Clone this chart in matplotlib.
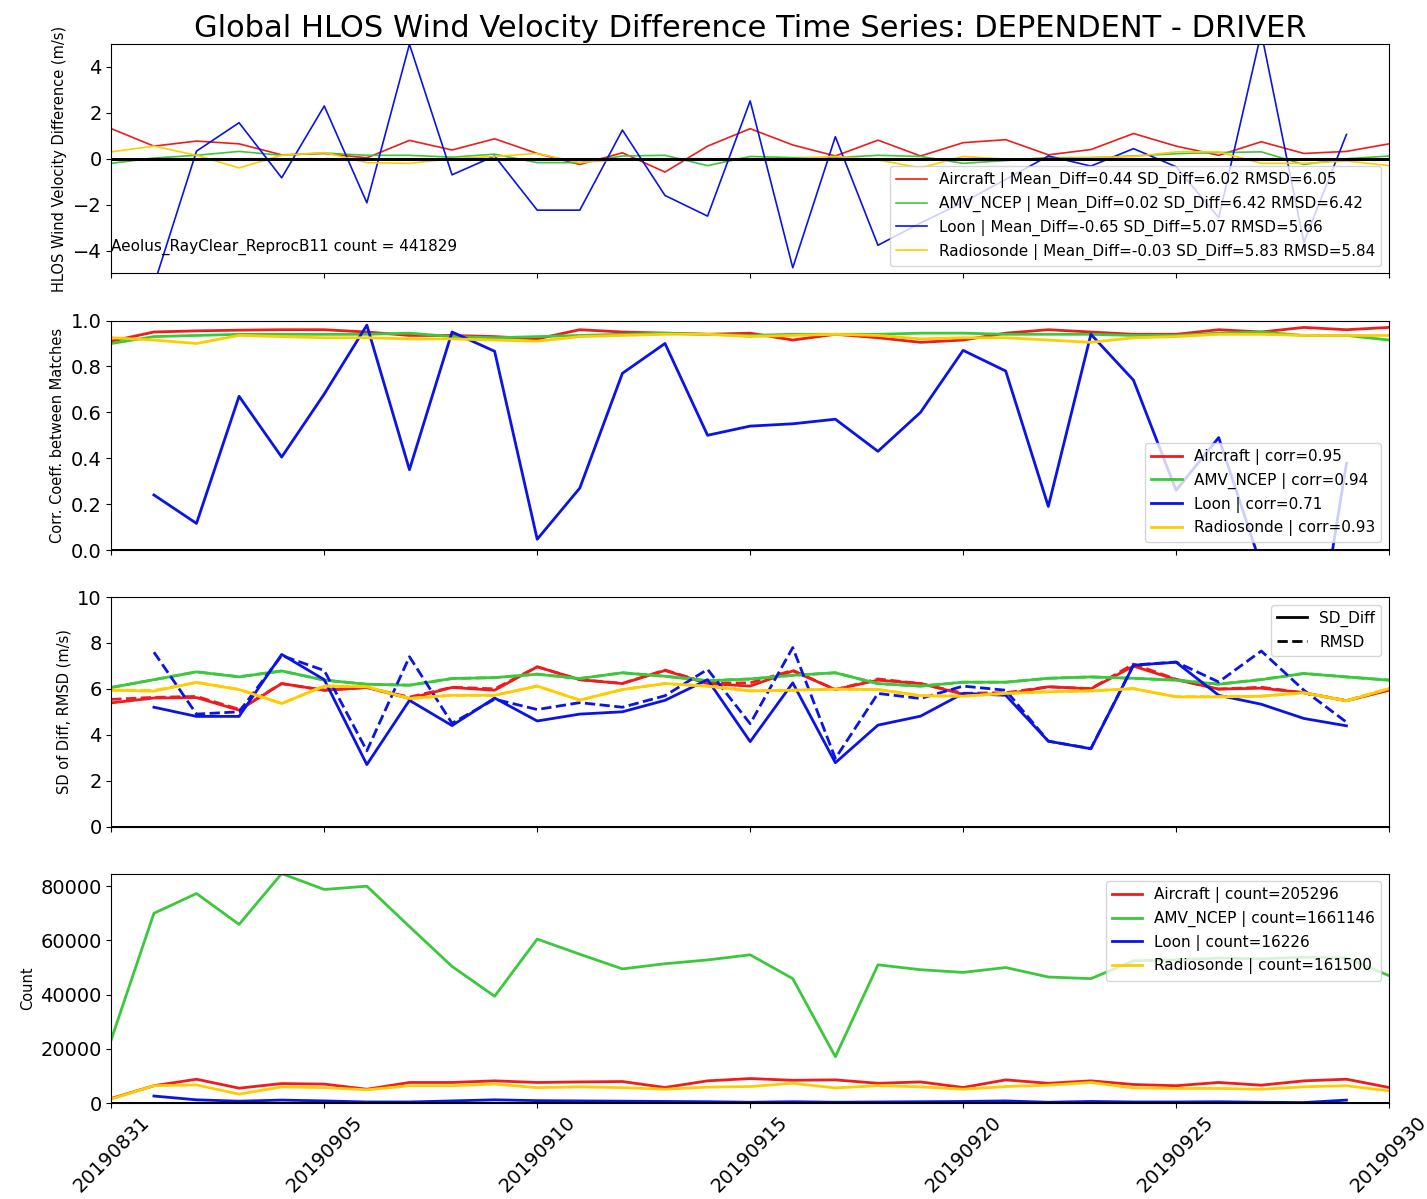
import numpy as np
import matplotlib
matplotlib.use('Agg')
import matplotlib.pyplot as plt

## --------------------------- Data --------------------------------------

dates = ['201908%02d' % d for d in [31]] + ['201909%02d' % d for d in range(1, 31)]

sources = ['Aircraft', 'AMV_NCEP', 'Loon', 'Radiosonde']
colors = ['#ee1c1c', '#3cc83c', '#0a14e6', '#ffcc00']

nan = np.nan

# mean difference (m/s)
mean_aircraft = [1.31, 0.55, 0.77, 0.65, 0.17, 0.23, 0.04, 0.80, 0.38, 0.87, 0.23, -0.25, 0.26, -0.58, 0.55,
                 1.31, 0.60, 0.12, 0.81, 0.12, 0.70, 0.83, 0.17, 0.40, 1.10, 0.55, 0.15, 0.74, 0.23, 0.32, 0.65]
mean_amv = [-0.20, 0.03, 0.15, 0.32, 0.15, 0.25, 0.15, 0.15, 0.07, 0.20, -0.17, -0.17, 0.12, 0.15, -0.30,
            0.10, 0.05, 0.05, 0.15, 0.10, -0.20, -0.08, 0.05, 0.05, 0.12, 0.22, 0.27, 0.30, -0.25, 0.00, 0.12]
mean_loon = [nan, -5.5, 0.33, 1.57, -0.83, 2.30, -1.92, 4.99, -0.70, 0.12, -2.24, -2.24, 1.25, -1.60, -2.50,
             2.52, -4.75, 0.96, -3.77, -2.80, -1.90, -0.90, 0.12, -0.32, 0.44, -0.35, -2.57, 5.50, -3.64, 1.06, nan]
mean_radiosonde = [0.30, 0.55, 0.15, -0.40, 0.15, 0.27, -0.17, -0.20, 0.00, 0.10, 0.23, -0.17, -0.03, 0.00, 0.00,
                   0.00, 0.00, 0.10, -0.05, -0.40, 0.10, -0.02, 0.00, 0.05, 0.10, 0.30, 0.30, -0.20, -0.20, -0.10, -0.30]

# correlation between matches
corr_aircraft = [0.91, 0.95, 0.955, 0.958, 0.96, 0.96, 0.95, 0.935, 0.935, 0.93, 0.92, 0.96, 0.95, 0.945, 0.94,
                 0.945, 0.915, 0.94, 0.925, 0.905, 0.915, 0.945, 0.96, 0.95, 0.94, 0.94, 0.96, 0.95, 0.97, 0.96, 0.97]
corr_amv = [0.90, 0.93, 0.935, 0.94, 0.94, 0.94, 0.94, 0.945, 0.93, 0.925, 0.93, 0.935, 0.94, 0.945, 0.94,
            0.935, 0.94, 0.94, 0.94, 0.945, 0.945, 0.94, 0.94, 0.94, 0.935, 0.935, 0.945, 0.95, 0.935, 0.935, 0.915]
corr_loon = [nan, 0.24, 0.116, 0.67, 0.405, 0.68, 0.98, 0.35, 0.95, 0.866, 0.047, 0.27, 0.77, 0.90, 0.50,
             0.54, 0.55, 0.57, 0.43, 0.60, 0.87, 0.78, 0.19, 0.94, 0.74, 0.26, 0.49, -0.07, -0.78, 0.378, nan]
corr_radiosonde = [0.925, 0.915, 0.90, 0.935, 0.93, 0.925, 0.925, 0.92, 0.92, 0.915, 0.91, 0.93, 0.935, 0.94, 0.94,
                   0.93, 0.935, 0.94, 0.935, 0.92, 0.925, 0.925, 0.915, 0.905, 0.925, 0.93, 0.94, 0.94, 0.935, 0.935, 0.935]

# SD of difference (m/s)
sd_aircraft = [5.39, 5.6, 5.62, 5.07, 6.23, 5.94, 6.06, 5.58, 6.06, 5.94, 6.96, 6.4, 6.23, 6.8, 6.23,
               6.12, 6.78, 5.97, 6.38, 6.23, 5.77, 5.77, 6.09, 6.0, 6.99, 6.4, 5.99, 6.03, 5.83, 5.48, 5.94]
sd_amv = [6.06, 6.4, 6.74, 6.52, 6.78, 6.38, 6.2, 6.16, 6.45, 6.49, 6.64, 6.45, 6.7, 6.55, 6.35,
          6.43, 6.59, 6.7, 6.23, 6.12, 6.29, 6.29, 6.46, 6.52, 6.46, 6.38, 6.2, 6.4, 6.67, 6.52, 6.38]
sd_loon = [nan, 5.2, 4.8, 4.8, 7.5, 6.4, 2.7, 5.5, 4.4, 5.6, 4.6, 4.9, 5.0, 5.5, 6.4,
           3.7, 6.26, 2.78, 4.42, 4.81, 5.8, 5.72, 3.72, 3.39, 7.03, 7.16, 5.72, 5.33, 4.71, 4.39, nan]
sd_radiosonde = [5.94, 5.9, 6.28, 5.97, 5.36, 6.12, 6.09, 5.58, 5.72, 5.72, 6.12, 5.51, 5.97, 6.23, 6.12,
                 5.91, 5.94, 5.99, 5.97, 5.7, 5.68, 5.8, 5.87, 5.91, 6.01, 5.65, 5.65, 5.68, 5.83, 5.48, 6.01]

# RMSD (m/s)
rmsd_aircraft = [5.54, 5.63, 5.67, 5.11, 6.23, 5.94, 6.06, 5.64, 6.07, 6.0, 6.96, 6.4, 6.24, 6.82, 6.25,
                 6.26, 6.81, 5.97, 6.43, 6.23, 5.81, 5.83, 6.09, 6.01, 7.08, 6.42, 5.99, 6.07, 5.83, 5.49, 5.98]
rmsd_amv = [6.06, 6.4, 6.74, 6.53, 6.78, 6.38, 6.2, 6.16, 6.45, 6.49, 6.64, 6.45, 6.7, 6.55, 6.36,
            6.43, 6.59, 6.7, 6.23, 6.12, 6.29, 6.29, 6.46, 6.52, 6.46, 6.38, 6.21, 6.41, 6.67, 6.52, 6.38]
rmsd_loon = [nan, 7.6, 4.9, 5.0, 7.45, 6.8, 3.3, 7.4, 4.5, 5.55, 5.1, 5.4, 5.2, 5.7, 6.85,
             4.48, 7.8, 2.97, 5.8, 5.58, 6.12, 5.94, 3.72, 3.4, 7.04, 7.17, 6.3, 7.65, 5.94, 4.55, nan]
rmsd_radiosonde = [5.95, 5.93, 6.28, 5.98, 5.36, 6.13, 6.09, 5.58, 5.72, 5.72, 6.12, 5.51, 5.97, 6.23, 6.12,
                   5.91, 5.94, 5.99, 5.97, 5.71, 5.68, 5.8, 5.87, 5.91, 6.01, 5.66, 5.66, 5.68, 5.83, 5.48, 6.02]

# daily match counts
count_aircraft = [1700, 6400, 8800, 5500, 7200, 7000, 5100, 7600, 7600, 8200, 7600, 7800, 7950, 5750, 8200,
                  9050, 8400, 8560, 7300, 7800, 5750, 8560, 7300, 8200, 6850, 6400, 7600, 6600, 8200, 8800, 5750]
count_amv = [23500, 70000, 77300, 65900, 84650, 78800, 80000, 65100, 50400, 39400, 60500, 54900, 49500, 51400, 52800,
             54700, 45900, 17100, 51000, 49200, 48200, 50000, 46500, 45900, 52500, 52800, 53500, 53200, 53800, 53500, 47000]
count_loon = [nan, 2600, 1200, 700, 1100, 800, 400, 400, 800, 1200, 900, 800, 700, 600, 500,
              300, 500, 300, 400, 500, 600, 800, 300, 600, 400, 400, 500, 300, 200, 1100, nan]
count_radiosonde = [1500, 6400, 6700, 3300, 6000, 5700, 4900, 6400, 6400, 7000, 5700, 6000, 5700, 5100, 5900,
                    6100, 7300, 5600, 6400, 6000, 5100, 6100, 6600, 7600, 5600, 5400, 5400, 5100, 6000, 6400, 4500]

stat_mean = ['0.44', '0.02', '-0.65', '-0.03']
stat_sd = ['6.02', '6.42', '5.07', '5.83']
stat_rmsd = ['6.05', '6.42', '5.66', '5.84']
stat_corr = ['0.95', '0.94', '0.71', '0.93']
stat_count = ['205296', '1661146', '16226', '161500']
aeolus_label = 'Aeolus_RayClear_ReprocB11 count = 441829'

means = [mean_aircraft, mean_amv, mean_loon, mean_radiosonde]
corrs = [corr_aircraft, corr_amv, corr_loon, corr_radiosonde]
sds = [sd_aircraft, sd_amv, sd_loon, sd_radiosonde]
rmsds = [rmsd_aircraft, rmsd_amv, rmsd_loon, rmsd_radiosonde]
counts = [count_aircraft, count_amv, count_loon, count_radiosonde]

## --------------------------- Plotting --------------------------------------

x = np.arange(len(dates))
leg_fs = 11
lab_fs = 10.5

fig, axes = plt.subplots(4, 1, figsize=(14.27, 11.99), dpi=100, sharex=True)
fig.subplots_adjust(left=0.078, right=0.9734, top=0.9633, bottom=0.080, hspace=0.205)
ax1, ax2, ax3, ax4 = axes

for i in range(len(sources)):
    ax1.plot(x, means[i], color=colors[i], linewidth=1.2,
             label='%s | Mean_Diff=%s SD_Diff=%s RMSD=%s' % (sources[i], stat_mean[i], stat_sd[i], stat_rmsd[i]))
ax1.axhline(y=0, color='k', linewidth=2.2)
ax1.set_ylim(-5, 5)
ax1.set_ylabel('HLOS Wind Velocity Difference (m/s)', fontsize=lab_fs)
ax1.text(0.0, 0.1, aeolus_label, transform=ax1.transAxes, fontsize=leg_fs)
ax1.legend(loc='lower right', fontsize=leg_fs)
ax1.set_title('Global HLOS Wind Velocity Difference Time Series: DEPENDENT - DRIVER', fontsize=22, pad=5)

for i in range(len(sources)):
    ax2.plot(x, corrs[i], color=colors[i], linewidth=2,
             label='%s | corr=%s' % (sources[i], stat_corr[i]))
ax2.axhline(y=0, color='k', linewidth=2.2)
ax2.set_ylim(0, 1)
ax2.set_ylabel('Corr. Coeff. between Matches', fontsize=lab_fs)
ax2.legend(loc='lower right', fontsize=leg_fs)

for i in range(len(sources)):
    ax3.plot(x, sds[i], color=colors[i], linewidth=2)
    ax3.plot(x, rmsds[i], color=colors[i], linewidth=2, linestyle='--')
ax3.plot([], [], color='k', linewidth=2, label='SD_Diff')
ax3.plot([], [], color='k', linewidth=2, linestyle='--', label='RMSD')
ax3.axhline(y=0, color='k', linewidth=2.2)
ax3.set_ylim(0, 10)
ax3.set_ylabel('SD of Diff, RMSD (m/s)', fontsize=lab_fs)
ax3.legend(loc='upper right', fontsize=leg_fs)

for i in range(len(sources)):
    ax4.plot(x, counts[i], color=colors[i], linewidth=2,
             label='%s | count=%s' % (sources[i], stat_count[i]))
ax4.axhline(y=0, color='k', linewidth=2.2)
ax4.set_ylim(0, np.nanmax(count_amv))
ax4.set_ylabel('Count', fontsize=lab_fs)
ax4.legend(loc='upper right', fontsize=leg_fs)

ax4.set_xlim(x[0], x[-1])
ax4.set_xticks(x[::5])
ax4.set_xticklabels(dates[::5], rotation=45, ha='center')

for ax in axes:
    ax.tick_params(labelsize=14)

plt.savefig('out.png')
